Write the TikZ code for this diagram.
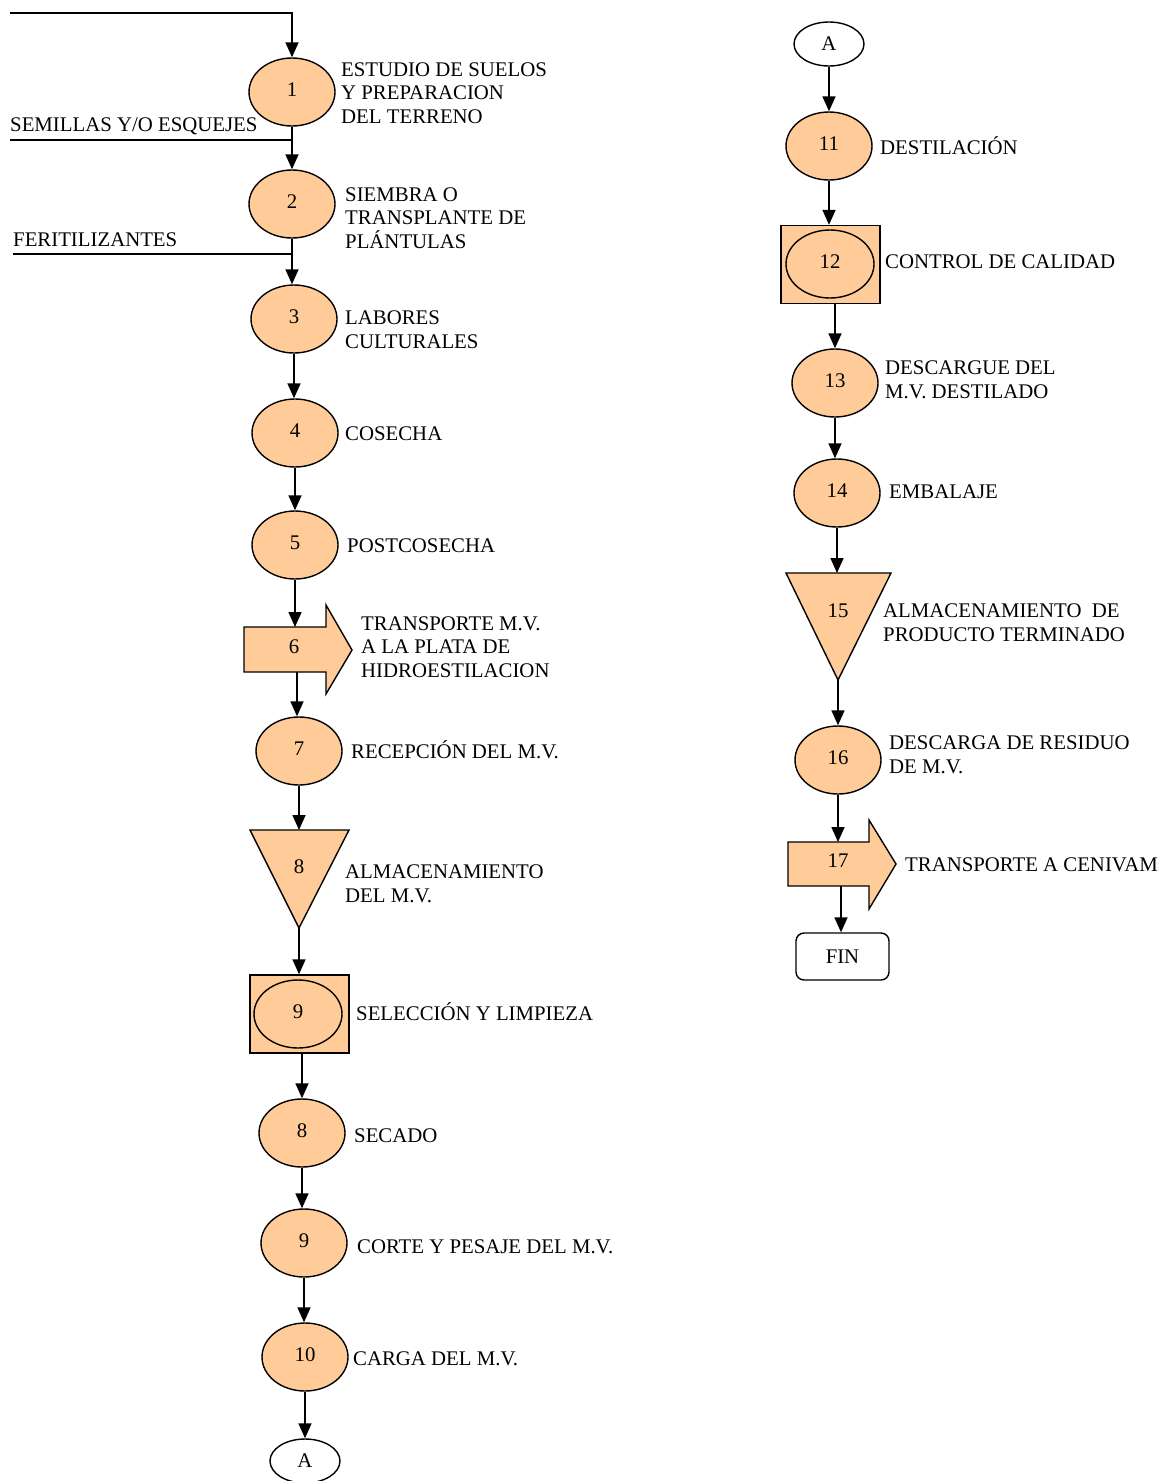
\documentclass[tikz,border=0pt]{standalone}
\usepackage{fontspec}
\setmainfont{Liberation Serif}
\usetikzlibrary{shapes.geometric,arrows.meta}
\definecolor{peach}{RGB}{255,204,153}
\begin{document}
\begin{tikzpicture}[x=1pt,y=-1pt,
  every node/.style={font=\fontsize{20.8}{23.7}\selectfont},
  oval/.style={ellipse,draw,line width=1.4pt,fill=peach,minimum width=86pt,minimum height=68pt,inner sep=0pt,text height=14pt,text depth=6pt},
  conn/.style={draw,line width=1.6pt,-{Triangle[length=15pt,width=13pt]}},
  plain/.style={draw,line width=1.5pt},
  shp/.style={draw,line width=1.4pt,fill=peach,line join=miter},
  numlbl/.style={inner sep=0pt,text height=14pt,text depth=6pt},
  lbl/.style={anchor=west,inner sep=0pt,text height=14pt,text depth=0pt},
  mlbl/.style={anchor=west,inner sep=0pt,align=left},
  boxn/.style={rectangle,draw,line width=1.4pt,fill=peach,minimum width=99pt,minimum height=78pt,inner sep=0pt},
  conector/.style={ellipse,draw,line width=1.4pt,fill=white,minimum width=70pt,minimum height=44pt,inner sep=0pt}
]
\useasboundingbox (0,0) rectangle (1164,1481);

% ---------------- left column ----------------
\node[oval] (n1) at (292,92) {1};
\node[oval] (n2) at (292,204) {2};
\node[oval] (n3) at (294,319) {3};
\node[oval] (n4) at (295,433) {4};
\node[oval] (n5) at (295,545) {5};

% transport arrow 6
\path[shp] (244,627) -- (326,627) -- (326,605) -- (352,650) -- (326,694) -- (326,672) -- (244,672) -- cycle;
\node[numlbl] (n6) at (294,649) {6};
\coordinate (t6) at (296,627);
\coordinate (b6) at (297,672);

\node[oval] (n7) at (299,751) {7};

% storage triangle 8
\path[shp] (250,830) -- (349,830) -- (299,928) -- cycle;
\node[numlbl] (n8) at (299,869) {8};
\coordinate (t8) at (299,830);
\coordinate (b8) at (299,928);

% box 9
\node[boxn] (box9) at (299.5,1014) {};
\node[oval,minimum width=88pt] (n9) at (298,1014) {9};

\node[oval] (n8b) at (302,1133) {8};
\node[oval] (n9b) at (304,1243) {9};
\node[oval] (n10) at (305,1357) {10};
\node[conector] (A1) at (305,1461) {A};

% inputs
\coordinate (s0) at (10,13);
\coordinate (s1) at (10,140);
\coordinate (s2) at (13,254);
\draw[conn] (s0) -| (n1.north);
\draw[plain] (s1) -- (s1 -| n1.south);
\draw[plain] (s2) -- (s2 -| n2.south);

\draw[conn] (n1.south) -- (n1.south |- n2.north);
\draw[conn] (n2.south) -- (n2.south |- n3.north);
\draw[conn] (n3.south) -- (n3.south |- n4.north);
\draw[conn] (n4.south) -- (n4.south |- n5.north);
\draw[conn] (n5.south) -- (n5.south |- t6);
\draw[conn] (b6) -- (b6 |- n7.north);
\draw[conn] (n7.south) -- (n7.south |- t8);
\draw[conn] (b8) -- (b8 |- box9.north);
\draw[conn] (box9.south) ++(2.5,0) coordinate (o9) -- (o9 |- n8b.north);
\draw[conn] (n8b.south) -- (n8b.south |- n9b.north);
\draw[conn] (n9b.south) -- (n9b.south |- n10.north);
\draw[conn] (n10.south) -- (n10.south |- A1.north);

% labels left
\node[mlbl] (L1) at (341,93) {ESTUDIO DE SUELOS\\Y PREPARACION\\DEL TERRENO};
\node[lbl] (Lsem) at (10,124) {SEMILLAS Y/O ESQUEJES};
\node[mlbl] (L2) at (345,218) {SIEMBRA O\\TRANSPLANTE DE\\PLÁNTULAS};
\node[lbl] (Lfer) at (13,239) {FERITILIZANTES};
\node[mlbl] (L3) at (345,330) {LABORES\\CULTURALES};
\node[lbl] (L4) at (345,433) {COSECHA};
\node[lbl] (L5) at (347,545) {POSTCOSECHA};
\node[mlbl] (L6) at (361,647) {TRANSPORTE M.V.\\A LA PLATA DE\\HIDROESTILACION};
\node[lbl] (L7) at (351,751) {RECEPCIÓN DEL M.V.};
\node[mlbl] (L8) at (345,884) {ALMACENAMIENTO\\DEL M.V.};
\node[lbl] (L9) at (356,1013) {SELECCIÓN Y LIMPIEZA};
\node[lbl] (L8b) at (354,1135) {SECADO};
\node[lbl] (L9b) at (357,1246) {CORTE Y PESAJE DEL M.V.};
\node[lbl] (L10) at (353,1358) {CARGA DEL M.V.};

% ---------------- right column ----------------
\node[conector] (A2) at (829,44) {A};
\node[oval] (n11) at (829,146) {11};
\node[boxn] (box12) at (830.5,264.5) {};
\node[oval,minimum width=88pt] (n12) at (830,264) {12};
\node[oval] (n13) at (835,383) {13};
\node[oval] (n14) at (837,493) {14};

\path[shp] (786,573) -- (891,573) -- (838,680) -- cycle;
\node[numlbl] (n15) at (838,613) {15};
\coordinate (t15) at (838,573);
\coordinate (b15) at (838,680);

\node[oval] (n16) at (838,760) {16};

\path[shp] (788,842) -- (869,842) -- (869,820) -- (896,864) -- (869,909) -- (869,886) -- (788,886) -- cycle;
\node[numlbl] (n17) at (838,863) {17};
\coordinate (t17) at (840,842);
\coordinate (b17) at (841,886);

\node[rectangle,rounded corners=8pt,draw,line width=1.4pt,fill=white,minimum width=93pt,minimum height=47pt,inner sep=0pt] (fin) at (842.5,956.5) {FIN};

\draw[conn] (A2.south) -- (A2.south |- n11.north);
\draw[conn] (n11.south) -- (n11.south |- box12.north);
\draw[conn] (box12.south) ++(4.5,0) coordinate (o12) -- (o12 |- n13.north);
\draw[conn] (n13.south) -- (n13.south |- n14.north);
\draw[conn] (n14.south) -- (n14.south |- t15);
\draw[conn] (b15) -- (b15 |- n16.north);
\draw[conn] (n16.south) -- (n16.south |- t17);
\draw[conn] (b17) -- (b17 |- fin.north);

% labels right
\node[lbl] (L11) at (880,147) {DESTILACIÓN};
\node[lbl] (L12) at (885,261) {CONTROL DE CALIDAD};
\node[mlbl] (L13) at (885,380) {DESCARGUE DEL\\M.V. DESTILADO};
\node[lbl] (L14) at (889,491) {EMBALAJE};
\node[mlbl] (L15) at (883,623) {ALMACENAMIENTO\ \ DE\\PRODUCTO TERMINADO};
\node[mlbl] (L16) at (889,755) {DESCARGA DE RESIDUO\\DE M.V.};
\node[lbl] (L17) at (905,864) {TRANSPORTE A CENIVAM};
\end{tikzpicture}
\end{document}
